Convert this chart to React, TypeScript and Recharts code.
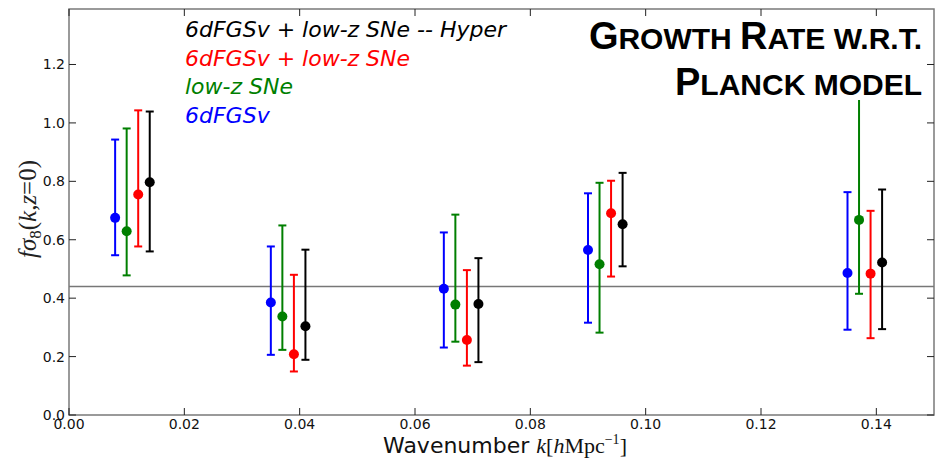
import { ScatterChart, Scatter, XAxis, YAxis, ErrorBar, ReferenceLine, ReferenceArea, Legend } from "recharts";

const WIDTH = 938;
const HEIGHT = 458;
const PLOT_LEFT = 69;
const PLOT_RIGHT = 934;
const PLOT_TOP = 9;
const PLOT_BOTTOM = 415;
const TICK_LEN = 7;

const X_TICKS = [0, 0.02, 0.04, 0.06, 0.08, 0.1, 0.12, 0.14];
const Y_TICKS = [0, 0.2, 0.4, 0.6, 0.8, 1.0, 1.2];
const PLANCK_FS8 = 0.44;

// 6dFGSv + low-z SNe, hyper-parameter fit
const kHyper = [0.014, 0.041, 0.071, 0.096, 0.141];
const fs8Hyper = [0.797, 0.304, 0.38, 0.653, 0.522];
const loHyper = [0.56, 0.189, 0.181, 0.509, 0.294];
const hiHyper = [1.039, 0.566, 0.537, 0.829, 0.772];

// 6dFGSv + low-z SNe
const kComb = [0.012, 0.039, 0.069, 0.094, 0.139];
const fs8Comb = [0.755, 0.208, 0.257, 0.691, 0.484];
const loComb = [0.577, 0.149, 0.169, 0.474, 0.263];
const hiComb = [1.043, 0.48, 0.496, 0.802, 0.699];

// low-z SNe
const kSne = [0.01, 0.037, 0.067, 0.092, 0.137];
const fs8Sne = [0.629, 0.337, 0.378, 0.516, 0.668];
const loSne = [0.478, 0.223, 0.251, 0.282, 0.415];
const hiSne = [0.981, 0.649, 0.686, 0.795, 1.16];

// 6dFGSv
const kVel = [0.008, 0.035, 0.065, 0.09, 0.135];
const fs8Vel = [0.675, 0.385, 0.432, 0.565, 0.486];
const loVel = [0.547, 0.206, 0.231, 0.316, 0.292];
const hiVel = [0.943, 0.577, 0.625, 0.759, 0.763];

const toPoints = (k: number[], v: number[], lo: number[], hi: number[]) =>
  k.map((kk, i) => ({ k: kk, v: v[i], err: [v[i] - lo[i], hi[i] - v[i]] }));

// listed in legend order
const SERIES = [
  { name: "6dFGSv + low-z SNe -- Hyper", color: "#000000", data: toPoints(kHyper, fs8Hyper, loHyper, hiHyper) },
  { name: "6dFGSv + low-z SNe", color: "#ff0000", data: toPoints(kComb, fs8Comb, loComb, hiComb) },
  { name: "low-z SNe", color: "#007f00", data: toPoints(kSne, fs8Sne, loSne, hiSne) },
  { name: "6dFGSv", color: "#0000ff", data: toPoints(kVel, fs8Vel, loVel, hiVel) },
];

const SANS = "'DejaVu Sans', sans-serif";
const SERIF = "'Liberation Serif', 'DejaVu Serif', serif";

const XTick = (props: any) => {
  const { x, payload } = props;
  return (
    <g>
      <line x1={x} x2={x} y1={PLOT_BOTTOM} y2={PLOT_BOTTOM - TICK_LEN} stroke="#222" />
      <line x1={x} x2={x} y1={PLOT_TOP} y2={PLOT_TOP + TICK_LEN} stroke="#222" />
      <text x={x} y={PLOT_BOTTOM + 14} textAnchor="middle" fontSize={14} fontFamily={SANS} fill="#111">
        {Number(payload.value).toFixed(2)}
      </text>
    </g>
  );
};

const YTick = (props: any) => {
  const { y, payload } = props;
  return (
    <g>
      <line x1={PLOT_LEFT} x2={PLOT_LEFT + TICK_LEN} y1={y} y2={y} stroke="#222" />
      <line x1={PLOT_RIGHT - TICK_LEN} x2={PLOT_RIGHT} y1={y} y2={y} stroke="#222" />
      <text x={PLOT_LEFT - 4} y={y + 5} textAnchor="end" fontSize={14} fontFamily={SANS} fill="#111">
        {Number(payload.value).toFixed(1)}
      </text>
    </g>
  );
};

// Recharts sorts the payload by name; keep the series order instead
const renderLegend = (props: any) => {
  const shown = new Set((props.payload || []).map((p: any) => p.value));
  return (
    <div style={{ fontFamily: SANS, fontStyle: "italic", fontSize: 22, lineHeight: "28.7px", whiteSpace: "nowrap" }}>
      {SERIES.filter((s) => shown.has(s.name)).map((s) => (
        <div key={s.name} style={{ color: s.color }}>
          {s.name}
        </div>
      ))}
    </div>
  );
};

const dot = (color: string) => (props: any) =>
  <circle cx={props.cx} cy={props.cy} r={5} fill={color} />;

export default function App() {
  return (
    <div style={{ position: "fixed", left: 0, top: 0, width: WIDTH, height: HEIGHT, background: "#fff" }}>
      <ScatterChart width={WIDTH} height={HEIGHT} margin={{ top: PLOT_TOP, right: WIDTH - PLOT_RIGHT, bottom: 0, left: 0 }}>
        <XAxis
          type="number"
          dataKey="k"
          domain={[0, 0.15]}
          ticks={X_TICKS}
          height={HEIGHT - PLOT_BOTTOM}
          axisLine={false}
          tickLine={false}
          tick={XTick}
          allowDataOverflow
        />
        <YAxis
          type="number"
          dataKey="v"
          domain={[0, 1.39]}
          ticks={Y_TICKS}
          width={PLOT_LEFT}
          axisLine={false}
          tickLine={false}
          tick={YTick}
          allowDataOverflow
        />
        <ReferenceArea x1={0} x2={0.15} y1={0} y2={1.39} fill="none" stroke="#7a7a7a" strokeWidth={1.5} />
        <ReferenceLine y={PLANCK_FS8} stroke="#777" strokeWidth={1.5} />
        {SERIES.map((s) => (
          <Scatter
            key={s.name}
            name={s.name}
            data={s.data}
            fill={s.color}
            shape={dot(s.color)}
            isAnimationActive={false}
          >
            <ErrorBar dataKey="err" direction="y" width={4} stroke={s.color} strokeWidth={2} isAnimationActive={false} />
          </Scatter>
        ))}
        <Legend
          layout="vertical"
          align="center"
          verticalAlign="middle"
          content={renderLegend}
          wrapperStyle={{ top: 16, left: 185, width: "auto", height: "auto" }}
        />
      </ScatterChart>
      <svg width={WIDTH} height={HEIGHT} style={{ position: "absolute", left: 0, top: 0, pointerEvents: "none" }}>
        <rect x={672} y={64} width={252} height={36} fill="#fff" />
        <g fontFamily="'Liberation Sans', Arial, sans-serif" fontWeight="bold" fill="#000" textAnchor="end">
          <text x={922} y={49}>
            <tspan fontSize={38}>G</tspan>
            <tspan fontSize={30}>ROWTH </tspan>
            <tspan fontSize={38}>R</tspan>
            <tspan fontSize={30}>ATE W.R.T.</tspan>
          </text>
          <text x={922} y={95}>
            <tspan fontSize={38}>P</tspan>
            <tspan fontSize={30}>LANCK MODEL</tspan>
          </text>
        </g>
        <text transform="translate(36, 209) rotate(-90)" textAnchor="middle" fontFamily={SERIF} fontSize={25} fill="#222">
          <tspan fontStyle="italic">fσ</tspan>
          <tspan fontSize={17} dy={5}>8</tspan>
          <tspan dy={-5}>(</tspan>
          <tspan fontStyle="italic">k</tspan>
          <tspan>,</tspan>
          <tspan fontStyle="italic">z</tspan>
          <tspan>=0)</tspan>
        </text>
        <text x={505} y={453} textAnchor="middle" fontSize={22} fill="#111">
          <tspan fontFamily={SANS}>Wavenumber </tspan>
          <tspan fontFamily={SERIF} fontStyle="italic">k</tspan>
          <tspan fontFamily={SERIF}>[</tspan>
          <tspan fontFamily={SERIF} fontStyle="italic">h</tspan>
          <tspan fontFamily={SERIF}>Mpc</tspan>
          <tspan fontFamily={SERIF} fontSize={14} dy={-9}>−1</tspan>
          <tspan fontFamily={SERIF} dy={9}>]</tspan>
        </text>
      </svg>
    </div>
  );
}
